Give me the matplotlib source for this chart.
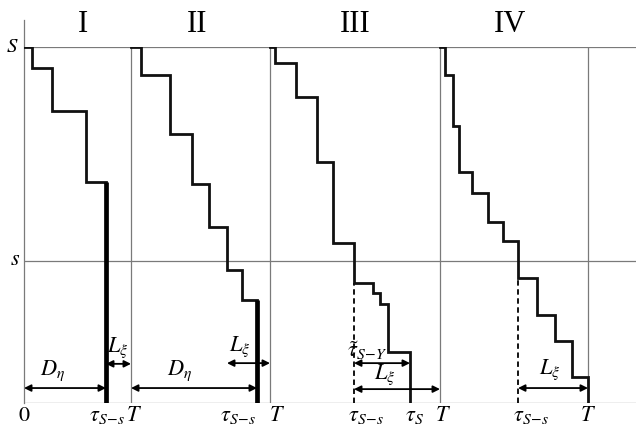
import matplotlib
matplotlib.use("Agg")
import matplotlib.pyplot as plt

plt.rcParams['font.family'] = 'serif'
plt.rcParams['font.serif'] = ['Liberation Serif', 'DejaVu Serif']
plt.rcParams['mathtext.fontset'] = 'stix'

# levels: S (order-up-to) and s (reorder point), bottom = 0
S_level = 100
s_level = 40

# end of each cycle (T), start of cycle I is 0
T_ends = [107, 246, 416, 564]
panel_names = ['I', 'II', 'III', 'IV']

# staircases: first time = start of cycle, then times of each demand jump;
# q[k] = stock level held from t[k] up to t[k+1]
t1 = [0, 8, 28, 62, 82]
q1 = [100, 94, 82, 62, 0]

t2 = [107, 117, 146, 168, 185, 203, 218, 233]
q2 = [100, 92, 75.5, 61.5, 49.5, 37.5, 29, 0]

t3 = [246, 251, 272, 293, 309, 330, 349, 356, 364, 386]
q3 = [100, 95.5, 86, 67.7, 44.9, 33.7, 30.9, 27.8, 14.3, 0]

t4 = [416, 421, 429, 435, 448, 464, 479, 494, 513, 531, 548, 564]
q4 = [100, 92, 77.8, 64.9, 59, 50.8, 45.5, 35.1, 24.7, 17.4, 7.3, 0]

stairs = [(t1, q1), (t2, q2), (t3, q3), (t4, q4)]


def tau_below(t, q, lev):
    # first jump where stock goes below s
    for k in range(1, len(q)):
        if q[k] < lev <= q[k - 1]:
            return t[k], q[k]
    return t[-1], q[-1]


fig = plt.figure(figsize=(6.36, 4.28), dpi=100)
ax = fig.add_axes([24 / 636, 25 / 428, 612 / 636, 356 / 428])
ax.set_xlim(0, 612)
ax.set_ylim(0, 100)
ax.axis('off')

grey = '#7a7a7a'
for lev in [S_level, s_level, 0]:
    ax.axhline(lev, color=grey, lw=0.9, zorder=1)
ax.plot([0, 0], [0, 107.5], color=grey, lw=0.9, clip_on=False, zorder=1)
ax.vlines(T_ends, 0, S_level, color=grey, lw=0.9, zorder=1)

big = 16


def arrow(x0, x1, y):
    ax.annotate('', xy=(x1, y), xytext=(x0, y),
                arrowprops=dict(arrowstyle='<|-|>', color='black', lw=1.3,
                                mutation_scale=10, shrinkA=0, shrinkB=0))


taus = []
for i, (t, q) in enumerate(stairs):
    ax.step(t, q, where='post', color='#111111', lw=2.0, zorder=3,
            solid_joinstyle='miter')
    tau, qt = tau_below(t, q, s_level)
    taus.append(tau)
    if i < 2:
        # last order of the cycle drops the stock to zero
        ax.vlines(t[-1], 0, q[-2], color='black', lw=3.4, zorder=4)
    else:
        ax.vlines(tau, 0, qt, color='black', lw=1.3, linestyles=(0, (3, 2)), zorder=2)

# period labels
label_x = [59, 173, 331, 486]
for name, x in zip(panel_names, label_x):
    ax.text(x, 106.3, name, fontsize=22, ha='center', va='center', clip_on=False)

ax.text(-12, S_level, '$S$', fontsize=15, ha='center', va='center')
ax.text(-9, s_level, '$s$', fontsize=16, ha='center', va='center')

# arrows and their labels
arrow(t1[0], t1[-1], 4.2)
arrow(taus[0], T_ends[0], 11)
ax.text(29, 9, r'$D_\eta$', fontsize=big, ha='center', va='center')
ax.text(94, 15.6, r'$L_\xi$', fontsize=big, ha='center', va='center')

arrow(t2[0], t2[-1], 4.2)
arrow(taus[1], T_ends[1], 11.2)
ax.text(156, 9, r'$D_\eta$', fontsize=big, ha='center', va='center')
ax.text(216, 15.8, r'$L_\xi$', fontsize=big, ha='center', va='center')

arrow(taus[2], t3[-1], 11.2)
arrow(taus[2], T_ends[2], 3.9)
ax.text(343, 14.6, r'$\tilde{\tau}_{S\!-\!Y}$', fontsize=big, ha='center', va='center')
ax.text(361, 8, r'$L_\xi$', fontsize=big, ha='center', va='center')

arrow(taus[3], T_ends[3], 4.2)
ax.text(526, 9.3, r'$L_\xi$', fontsize=big, ha='center', va='center')

# bottom labels
yb = -1.0
ax.text(0, yb, '$0$', fontsize=big, ha='center', va='top')
tau_dx = [-17, -7, -6, -5]
T_dx = [3, 7, 3, 0]
for i in range(4):
    ax.text(taus[i] + tau_dx[i], yb, r'$\tau_{S\!-\!s}$', fontsize=big, ha='left', va='top')
    ax.text(T_ends[i] + T_dx[i], yb, '$T$', fontsize=big, ha='center', va='top')
ax.text(t3[-1] - 5, yb, r'$\tau_S$', fontsize=big, ha='left', va='top')

fig.savefig('out.png', dpi=100)
